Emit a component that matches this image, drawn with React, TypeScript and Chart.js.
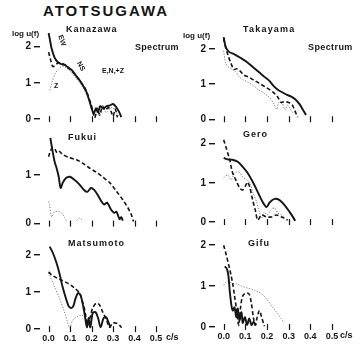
import React, { useEffect, useRef } from "react";
import { Chart, registerables } from "chart.js";

Chart.register(...registerables);

type Pt = [number, number | null];

// ---------- data (frequency c/s, log u(f)) ----------
const kanazawaEW: Pt[] = [[0,2.38],[0.006,2.2],[0.014,1.95],[0.028,1.7],[0.042,1.58],[0.06,1.52],[0.075,1.5],[0.09,1.43],[0.107,1.36],[0.13,1.18],[0.153,1.0],[0.177,0.74],[0.19,0.5],[0.2,0.3],[0.21,0.15],[0.22,0.3],[0.23,0.2],[0.24,0.36],[0.255,0.3],[0.27,0.36],[0.285,0.38],[0.3,0.42],[0.315,0.33],[0.328,0.2],[0.338,0.06]];
const kanazawaNS: Pt[] = [[0,1.85],[0.01,1.62],[0.02,1.45],[0.035,1.52],[0.05,1.56],[0.07,1.52],[0.09,1.42],[0.11,1.32],[0.13,1.18],[0.15,1.02],[0.17,0.85],[0.185,0.62],[0.198,0.4],[0.207,0.18],[0.215,0.04],[0.226,0.3],[0.238,0.12],[0.25,0.36],[0.263,0.25],[0.278,0.32],[0.29,0.22],[0.3,0.08],[0.31,0.28],[0.32,0.05]];
const kanazawaZ: Pt[] = [[0.005,0.8],[0.015,1.0],[0.028,1.22],[0.045,1.38],[0.065,1.46],[0.085,1.4],[0.105,1.3],[0.125,1.15],[0.145,1.0],[0.165,0.82],[0.182,0.6],[0.196,0.4],[0.206,0.25],[0.215,0.05],[0.228,0.22],[0.238,0.08],[0.252,0.3],[0.268,0.18],[0.283,0.28],[0.298,0.32],[0.313,0.2],[0.328,0.05]];

const takayamaSolid: Pt[] = [[0,2.34],[0.01,2.05],[0.025,1.92],[0.05,1.85],[0.08,1.74],[0.11,1.62],[0.14,1.46],[0.165,1.33],[0.19,1.2],[0.21,1.1],[0.23,0.95],[0.25,0.84],[0.27,0.77],[0.29,0.7],[0.31,0.65],[0.33,0.57],[0.35,0.43],[0.365,0.28],[0.38,0.12]];
const takayamaDashed: Pt[] = [[0,2.3],[0.008,2.08],[0.02,1.83],[0.033,1.6],[0.048,1.42],[0.06,1.44],[0.075,1.38],[0.093,1.26],[0.116,1.2],[0.14,1.11],[0.163,1.03],[0.195,0.91],[0.228,0.77],[0.25,0.63],[0.265,0.48],[0.28,0.5],[0.3,0.48],[0.315,0.42],[0.325,0.3],[0.335,0.15],[0.342,0.06]];
const takayamaDotted: Pt[] = [[0,1.95],[0.008,1.62],[0.02,1.5],[0.04,1.42],[0.055,1.36],[0.07,1.22],[0.09,1.12],[0.11,1.06],[0.135,0.97],[0.16,0.84],[0.18,0.77],[0.21,0.63],[0.23,0.46],[0.245,0.28],[0.255,0.48],[0.27,0.45],[0.283,0.26],[0.295,0.4],[0.308,0.3],[0.32,0.18]];

const fukuiSolid: Pt[] = [[0.008,1.76],[0.018,1.5],[0.028,1.27],[0.037,1.14],[0.047,0.96],[0.056,0.73],[0.066,0.84],[0.08,0.93],[0.098,0.96],[0.12,0.9],[0.144,0.8],[0.165,0.69],[0.18,0.65],[0.197,0.73],[0.212,0.69],[0.228,0.59],[0.245,0.46],[0.258,0.39],[0.272,0.43],[0.29,0.29],[0.305,0.22],[0.316,0.24],[0.33,0.09],[0.338,0.13],[0.345,0.06]];
const fukuiDashed: Pt[] = [[0,1.37],[0.006,1.46],[0.018,1.56],[0.03,1.52],[0.04,1.45],[0.05,1.48],[0.065,1.42],[0.098,1.35],[0.13,1.31],[0.158,1.24],[0.19,1.14],[0.22,1.06],[0.25,0.96],[0.284,0.84],[0.316,0.66],[0.345,0.49],[0.368,0.33],[0.385,0.18],[0.395,0.04]];
const fukuiDotted: Pt[] = [[0,0.45],[0.005,0.36],[0.014,0.14],[0.028,0.24],[0.042,0.25],[0.06,0.22],[0.074,0.12],[0.084,0.05],[0.1,null],[0.13,0.06],[0.14,0.11],[0.15,0.1],[0.158,0.05]];

const geroSolid: Pt[] = [[0,1.64],[0.018,1.6],[0.04,1.59],[0.065,1.54],[0.088,1.41],[0.11,1.26],[0.134,1.03],[0.157,0.77],[0.18,0.51],[0.198,0.38],[0.212,0.5],[0.235,0.59],[0.258,0.56],[0.28,0.44],[0.304,0.26],[0.323,0.1],[0.33,0.03]];
const geroDashed: Pt[] = [[0,2.1],[0.014,1.85],[0.028,1.59],[0.04,1.28],[0.06,1.03],[0.074,0.87],[0.088,0.82],[0.103,0.95],[0.11,1.02],[0.12,0.9],[0.134,0.56],[0.148,0.26],[0.157,0.05],[0.175,0.18],[0.198,0.13],[0.22,0.13],[0.244,0.18],[0.267,0.13],[0.28,0.1],[0.295,0.05]];
const geroDotted: Pt[] = [[0,1.13],[0.018,1.2],[0.035,1.08],[0.046,1.2],[0.06,1.28],[0.074,1.26],[0.088,1.15],[0.106,1.08],[0.12,1.0],[0.134,0.77],[0.152,0.51],[0.166,0.23],[0.175,0.1],[0.188,0.26],[0.2,0.18],[0.218,0.31],[0.235,0.36],[0.25,0.23],[0.267,0.18],[0.28,0.1]];

const matsumotoSolid: Pt[] = [[0.005,2.22],[0.02,2.05],[0.037,1.78],[0.05,1.51],[0.065,1.14],[0.08,0.84],[0.093,0.62],[0.105,0.57],[0.115,0.62],[0.126,0.84],[0.137,0.97],[0.148,0.92],[0.158,0.7],[0.17,0.32],[0.178,0.05],[0.186,0.3],[0.194,0.05],[0.205,0.43],[0.218,0.46],[0.23,0.3],[0.242,0.05],[0.256,0.3],[0.268,0.32],[0.28,0.16],[0.288,0.04]];
const matsumotoDashed: Pt[] = [[0,1.54],[0.014,1.46],[0.037,1.38],[0.06,1.32],[0.088,1.24],[0.12,1.11],[0.144,0.97],[0.158,0.73],[0.17,0.46],[0.18,0.1],[0.193,0.32],[0.205,0.57],[0.222,0.7],[0.237,0.65],[0.252,0.46],[0.27,0.24],[0.283,0.05],[0.298,0.16],[0.316,0.16],[0.33,0.1],[0.34,0.04]];
const matsumotoDotted: Pt[] = [[0,1.51],[0.028,1.14],[0.05,0.84],[0.074,0.46],[0.088,0.19],[0.098,0.03],[0.112,0.24],[0.13,0.32],[0.153,0.38],[0.167,0.3],[0.176,0.1]];

const gifuSolid: Pt[] = [[0.005,1.48],[0.015,1.42],[0.022,1.25],[0.028,0.88],[0.036,0.52],[0.042,0.4],[0.05,0.48],[0.058,0.24],[0.065,0.45],[0.073,0.17],[0.082,0.36],[0.088,0.1],[0.098,0.24],[0.108,0.05],[0.118,0.21],[0.128,0.05],[0.138,0.12],[0.15,0.04]];
const gifuDashed: Pt[] = [[0,2.0],[0.012,1.76],[0.023,1.52],[0.033,1.29],[0.042,1.05],[0.05,0.76],[0.058,0.48],[0.065,0.17],[0.07,0.04],[0.078,0.48],[0.088,0.76],[0.104,0.83],[0.118,0.8],[0.128,0.57],[0.137,0.24],[0.145,0.04],[0.155,0.24],[0.165,0.4],[0.175,0.24],[0.188,0.02]];
const gifuDotted: Pt[] = [[0,1.03],[0.018,1.12],[0.037,1.07],[0.06,1.05],[0.083,1.0],[0.11,0.95],[0.143,0.9],[0.175,0.81],[0.198,0.69],[0.22,0.52],[0.244,0.36],[0.265,0.21],[0.28,0.1]];

const xTickValues = [0, 0.1, 0.2, 0.3, 0.4, 0.5];
const xTickLabels = ["0.0", "0.1", "0.2", "0.3", "0.4", "0.5"];
const yTicksFull = [0, 1, 2];
const yTicksFukui = [0, 1];

// ---------- styles / layout ----------
const FONT = "'Liberation Sans', Arial, sans-serif";
const INK = "#151515";

const lineStyles = [
  { borderColor: INK, borderWidth: 1.9, borderDash: [] as number[] },
  { borderColor: INK, borderWidth: 1.6, borderDash: [4, 2.5] },
  { borderColor: "#7a7a7a", borderWidth: 1, borderDash: [1.2, 1.6] },
];

interface PanelCfg {
  x0: number; sx: number; y0: number; sy: number; ymax: number;
  yTicks: number[]; bottom: boolean; series: Pt[][];
}

const panels: PanelCfg[] = [
  { x0: 49, sx: 215, y0: 119, sy: 36, ymax: 2.6, yTicks: yTicksFull, bottom: false, series: [kanazawaEW, kanazawaNS, kanazawaZ] },
  { x0: 224, sx: 216, y0: 119, sy: 35, ymax: 2.6, yTicks: yTicksFull, bottom: false, series: [takayamaSolid, takayamaDashed, takayamaDotted] },
  { x0: 49, sx: 215, y0: 224, sy: 49, ymax: 1.9, yTicks: yTicksFukui, bottom: false, series: [fukuiSolid, fukuiDashed, fukuiDotted] },
  { x0: 224, sx: 216, y0: 222, sy: 39, ymax: 2.3, yTicks: yTicksFull, bottom: false, series: [geroSolid, geroDashed, geroDotted] },
  { x0: 49, sx: 215, y0: 329, sy: 37, ymax: 2.4, yTicks: yTicksFull, bottom: true, series: [matsumotoSolid, matsumotoDashed, matsumotoDotted] },
  { x0: 224, sx: 216, y0: 327, sy: 41, ymax: 2.2, yTicks: yTicksFull, bottom: true, series: [gifuSolid, gifuDashed, gifuDotted] },
];

const X_MIN = -0.04, X_MAX = 0.56, Y_MIN = -0.05, YW = 30;

const xTickMarks = {
  id: "xTickMarks",
  afterDraw(chart: any) {
    const { ctx, scales } = chart;
    const x = scales.x, y = scales.y;
    const yz = y.getPixelForValue(0);
    ctx.save();
    ctx.strokeStyle = INK;
    ctx.lineWidth = 1.2;
    xTickValues.forEach((v) => {
      const px = Math.round(x.getPixelForValue(v)) + 0.5;
      ctx.beginPath();
      ctx.moveTo(px, yz - 3);
      ctx.lineTo(px, yz + 3);
      ctx.stroke();
    });
    ctx.restore();
  },
};

function Panel({ cfg }: { cfg: PanelCfg }) {
  const ref = useRef<HTMLCanvasElement>(null);
  const xh = cfg.bottom ? 16 : 6;
  const chartLeft = cfg.x0 + X_MIN * cfg.sx;
  const chartRight = cfg.x0 + X_MAX * cfg.sx;
  const chartTop = cfg.y0 - cfg.ymax * cfg.sy;
  const chartBottom = cfg.y0 - Y_MIN * cfg.sy;
  const left = Math.round(chartLeft - YW);
  const top = Math.round(chartTop);
  const width = Math.round(chartRight) - left;
  const height = Math.round(chartBottom) - top + xh;

  useEffect(() => {
    const canvas = ref.current!;
    const chart = new Chart(canvas, {
      type: "line",
      data: {
        datasets: cfg.series.map((s, i) => ({
          data: s.map(([x, y]) => ({ x, y })),
          ...lineStyles[i],
          pointRadius: 0,
          tension: 0.3,
          fill: false,
          spanGaps: false,
          clip: false,
        })) as any,
      },
      options: {
        responsive: false,
        animation: false,
        devicePixelRatio: 1,
        events: [],
        layout: { padding: 0 },
        plugins: { legend: { display: false }, tooltip: { enabled: false }, title: { display: false } },
        scales: {
          x: {
            type: "linear",
            min: X_MIN,
            max: X_MAX,
            grid: { display: false, drawTicks: false, tickLength: 0 },
            border: { display: false },
            afterBuildTicks: (s: any) => { s.ticks = xTickValues.map((v) => ({ value: v })); },
            afterFit: (s: any) => { s.height = xh; s.paddingLeft = 0; s.paddingRight = 0; s.paddingTop = 0; s.paddingBottom = 0; },
            ticks: {
              display: cfg.bottom,
              autoSkip: false,
              maxRotation: 0,
              padding: 2,
              color: INK,
              font: { family: FONT, size: 9, weight: "bold" },
              callback: (_v: any, i: number) => xTickLabels[i],
            },
          },
          y: {
            type: "linear",
            min: Y_MIN,
            max: cfg.ymax,
            grid: { display: true, drawOnChartArea: false, drawTicks: true, tickLength: 6, color: INK, lineWidth: 1.4 },
            border: { display: false },
            afterBuildTicks: (s: any) => { s.ticks = cfg.yTicks.map((v) => ({ value: v })); },
            afterFit: (s: any) => { s.width = YW; s.paddingLeft = 0; s.paddingRight = 0; s.paddingTop = 0; s.paddingBottom = 0; },
            ticks: {
              padding: 3,
              color: INK,
              font: { family: FONT, size: 10, weight: "bold" },
              callback: (v: any) => String(v),
            },
          },
        },
      } as any,
      plugins: [xTickMarks],
    });
    return () => chart.destroy();
  }, []);

  return (
    <canvas
      ref={ref}
      width={width}
      height={height}
      style={{ position: "absolute", left, top, width, height }}
    />
  );
}

function Label({ x, y, size, children, spacing = 0, rotate = 0, weight = "bold" }: any) {
  return (
    <div
      style={{
        position: "absolute",
        left: x,
        top: y,
        fontFamily: FONT,
        fontSize: size,
        fontWeight: weight,
        lineHeight: 1,
        letterSpacing: spacing,
        whiteSpace: "nowrap",
        color: INK,
        transform: rotate ? `rotate(${rotate}deg)` : undefined,
        transformOrigin: "left top",
      }}
    >
      {children}
    </div>
  );
}

export default function App() {
  return (
    <div style={{ position: "absolute", left: 0, top: 0, width: 361, height: 351, background: "#fff", overflow: "hidden" }}>
      {panels.map((p, i) => (
        <Panel key={i} cfg={p} />
      ))}
      <Label x={43} y={3} size={15} spacing={2}>ATOTSUGAWA</Label>
      <Label x={12} y={30} size={8}>log u(f)</Label>
      <Label x={183} y={32} size={8}>log u(f)</Label>
      <Label x={66} y={25} size={9} spacing={1}>Kanazawa</Label>
      <Label x={243} y={25} size={9} spacing={1.2}>Takayama</Label>
      <Label x={135} y={43} size={9} spacing={0.3}>Spectrum</Label>
      <Label x={308} y={43} size={9} spacing={0.4}>Spectrum</Label>
      <Label x={102} y={67} size={7}>E,N,+Z</Label>
      <Label x={68} y={133} size={9} spacing={1}>Fukui</Label>
      <Label x={243} y={130} size={9} spacing={1}>Gero</Label>
      <Label x={68} y={239} size={9} spacing={1}>Matsumoto</Label>
      <Label x={248} y={239} size={9} spacing={1}>Gifu</Label>
      <Label x={166} y={333} size={9}>c/s</Label>
      <Label x={340} y={331} size={9}>c/s</Label>
      <Label x={64} y={34} size={7} rotate={72}>EW</Label>
      <Label x={82} y={60} size={7} rotate={60}>NS</Label>
      <Label x={54} y={82} size={7}>Z</Label>
    </div>
  );
}
